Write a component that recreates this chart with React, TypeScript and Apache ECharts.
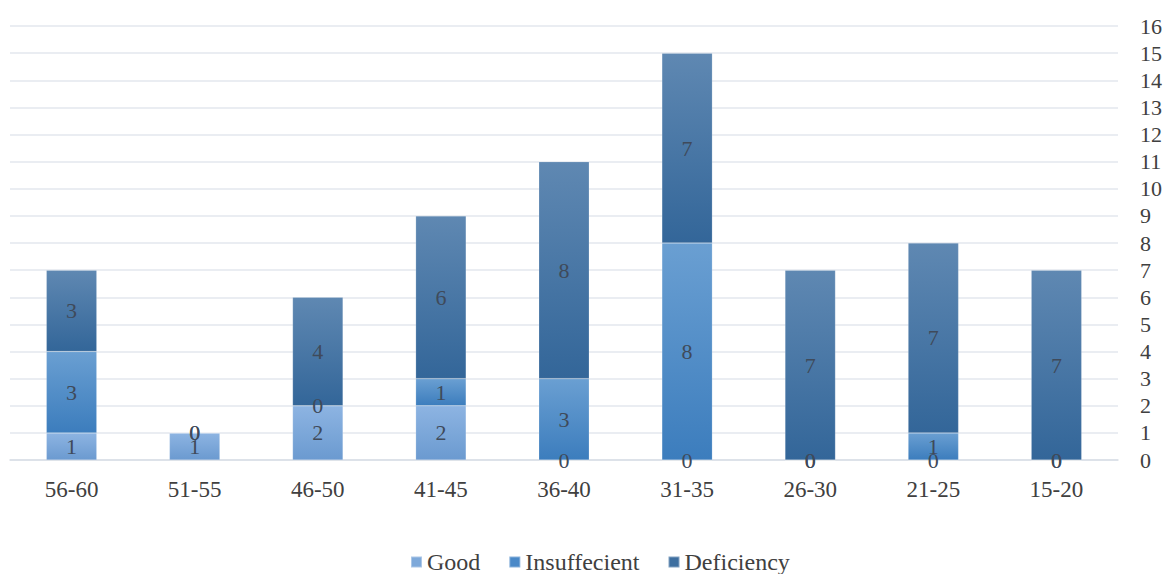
import React, { useEffect, useRef } from "react";
import * as echarts from "echarts";

const categories = ["56-60", "51-55", "46-50", "41-45", "36-40", "31-35", "26-30", "21-25", "15-20"];
const good = [1, 1, 2, 2, 0, 0, 0, 0, 0];
const insufficient = [3, 0, 0, 1, 3, 8, 0, 1, 0];
const deficiency = [3, 0, 4, 6, 8, 7, 7, 7, 7];
const seriesNames = ["Good", "Insuffecient", "Deficiency"];

const grad = (top: string, bottom: string) =>
  new echarts.graphic.LinearGradient(0, 0, 0, 1, [
    { offset: 0, color: top },
    { offset: 1, color: bottom },
  ]);

export default function App() {
  const ref = useRef<HTMLDivElement>(null);
  useEffect(() => {
    if (!ref.current) return;
    const chart = echarts.init(ref.current, undefined, { renderer: "svg" });
    const font = "'Liberation Serif', 'Times New Roman', serif";
    const label = {
      show: true,
      position: "inside" as const,
      color: "#3f4a5a",
      fontFamily: font,
      fontSize: 22,
    };
    const mk = (name: string, data: number[], top: string, bottom: string) => ({
      name,
      type: "bar" as const,
      stack: "total",
      data,
      barWidth: "41%",
      label,
      itemStyle: { color: grad(top, bottom), borderColor: "rgba(255,255,255,0.35)", borderWidth: 0.5 },
    });
    chart.setOption({
      animation: false,
      backgroundColor: "#ffffff",
      grid: { left: 10, right: 51, top: 26, bottom: 114, containLabel: false },
      legend: {
        bottom: -5,
        left: 405,
        itemWidth: 11,
        itemHeight: 11,
        itemGap: 28,
        icon: "rect",
        textStyle: { fontFamily: font, fontSize: 24, color: "#404040" },
        data: [
          { name: seriesNames[0], itemStyle: { color: "#7ea9da" } },
          { name: seriesNames[1], itemStyle: { color: "#4a89c8" } },
          { name: seriesNames[2], itemStyle: { color: "#3e6fa0" } },
        ],
      },
      xAxis: {
        type: "category",
        data: categories,
        axisLine: { show: true, lineStyle: { color: "#d9dee6", width: 1.5 } },
        axisTick: { show: false },
        axisLabel: { fontFamily: font, fontSize: 23, color: "#404040", margin: 18 },
      },
      yAxis: {
        type: "value",
        position: "right",
        min: 0,
        max: 16,
        interval: 1,
        axisLine: { show: false },
        axisTick: { show: false },
        splitLine: { lineStyle: { color: "#e3e7ee", width: 1.5 } },
        axisLabel: { fontFamily: font, fontSize: 22, color: "#404040", margin: 22 },
      },
      series: [
        mk(seriesNames[0], good, "#8db4e2", "#6b9ad0"),
        mk(seriesNames[1], insufficient, "#6a9fd2", "#3c7dbd"),
        mk(seriesNames[2], deficiency, "#5f88b2", "#336699"),
      ],
    });
    return () => chart.dispose();
  }, []);
  return <div ref={ref} style={{ width: 1169, height: 574, position: "absolute", left: 0, top: 0 }} />;
}
